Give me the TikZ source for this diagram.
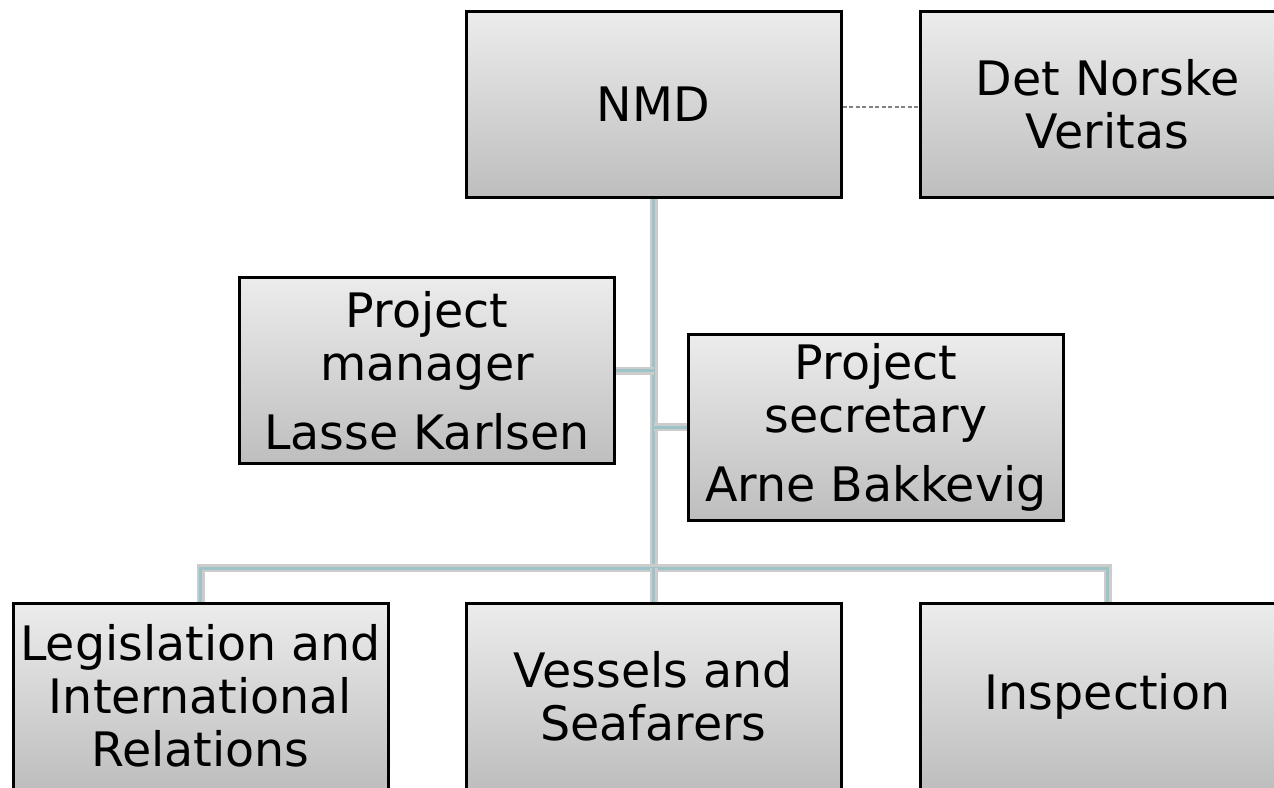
\documentclass[tikz,border=0pt]{standalone}
\usepackage{fontspec}
\setmainfont{DejaVu Sans}
\usetikzlibrary{backgrounds}
\definecolor{boxtop}{RGB}{236,236,236}
\definecolor{boxbot}{RGB}{190,190,190}
\definecolor{connout}{RGB}{204,204,204}
\definecolor{connin}{RGB}{155,195,200}
\definecolor{dotgray}{RGB}{130,130,130}
\tikzset{
  orgbox/.style={draw=black, line width=3pt, rectangle, top color=boxtop, bottom color=boxbot,
    minimum width=375pt, minimum height=186pt, inner sep=0pt, align=center,
    font=\fontsize{47.5}{53}\selectfont},
  conn/.style={draw=connin, line width=3pt, line join=miter,
    preaction={draw=connout, line width=8pt, line join=miter}},
  dotline/.style={draw=dotgray, line width=1.5pt, dash pattern=on 4pt off 2.5pt}
}
\begin{document}
\begin{tikzpicture}[x=1pt,y=-1pt]
\useasboundingbox (0,0) rectangle (1274,787);
\node[orgbox] (nmd) at (653.5,104) {NMD};
\node[orgbox] (dnv) at (1107.5,104) {Det Norske\\Veritas};
\node[orgbox] (pm) at (427,370.5) {Project\\manager\\[16pt]Lasse Karlsen};
\node[orgbox] (ps) at (876,427) {Project\\secretary\\[16pt]Arne Bakkevig};
\node[orgbox] (leg) at (200.5,696) {Legislation and\\International\\Relations};
\node[orgbox] (ves) at (653.5,696) {Vessels and\\Seafarers};
\node[orgbox] (ins) at (1107.5,696) {Inspection};
\coordinate (bus) at (653.5,568);
\begin{pgfonlayer}{background}
\draw[conn] (nmd.south) -- (bus);
\draw[conn] (leg.north) |- (bus) -| (ins.north);
\draw[conn] (bus) -- (ves.north);
\draw[conn] (pm.east) -- (pm -| nmd);
\draw[conn] (ps.west) -- (ps -| nmd);
\end{pgfonlayer}
\draw[dotline] ([yshift=-3pt]nmd.east) -- ([yshift=-3pt]dnv.west);
\end{tikzpicture}
\end{document}
